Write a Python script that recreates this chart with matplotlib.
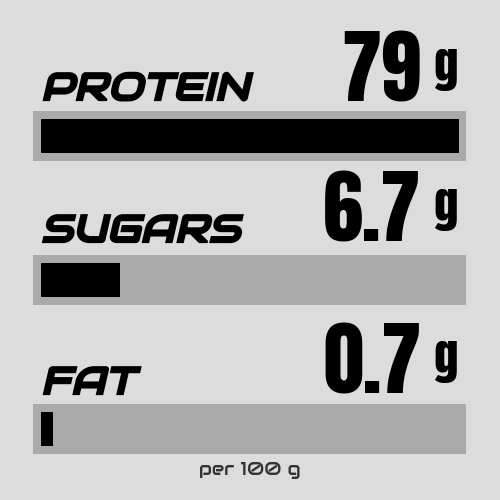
import matplotlib
matplotlib.use("Agg")
import matplotlib.pyplot as plt
from matplotlib import patheffects
from matplotlib.transforms import Affine2D

# nutrition values (grams per 100 g)
labels = ["PROTEIN", "SUGARS", "FAT"]
values = ["79", "6.7", "0.7"]
unit = "g"
# fill fraction of each bar as shown in the picture
fill = [1.0, 0.19, 0.029]

bg = "#dcdcdc"
track = "#aaaaaa"

# layout (pixel coords, y downward)
label_base = [100, 242, 394]
value_base = [102, 242, 394]
bar_mid = [135.5, 280, 429]


class Slant(patheffects.AbstractPathEffect):
    """fake oblique / widen / embolden for fonts without a bold italic"""
    def __init__(self, deg=12, sx=1.0, lw=0.0):
        super().__init__()
        self._t = Affine2D().scale(sx, 1).skew_deg(deg, 0)
        self._lw = lw

    def draw_path(self, renderer, gc, tpath, affine, rgbFace=None):
        gc0 = renderer.new_gc()
        gc0.copy_properties(gc)
        if self._lw:
            gc0.set_linewidth(self._lw)
            gc0.set_foreground(rgbFace)
            gc0.set_joinstyle("miter")
        renderer.draw_path(gc0, tpath, self._t + affine, rgbFace)
        gc0.restore()


fig = plt.figure(figsize=(5, 5), dpi=100, facecolor=bg)
ax = fig.add_axes([0, 0, 1, 1])
ax.set_xlim(0, 500)
ax.set_ylim(500, 0)
ax.axis("off")

# gray tracks + black fill
ax.barh(bar_mid, [433] * 3, left=33, height=50, color=track, linewidth=0)
ax.barh(bar_mid, [f * 418 for f in fill], left=41, height=34, color="black", linewidth=0)

for i in range(3):
    ax.text(41, label_base[i], labels[i], fontsize=27.5, family="Audiowide",
            ha="left", va="baseline", color="black",
            path_effects=[Slant(13, 1.07, 1.6)])
    ax.text(421, value_base[i], values[i], fontsize=58, family="Anton",
            ha="right", va="baseline", color="black")
    ax.text(458, value_base[i] - 17, unit, fontsize=35, family="Anton",
            ha="right", va="baseline", color="black")

ax.text(250, 475, "per 100 g", fontsize=13.5, color="#333333", family="Audiowide",
        ha="center", va="baseline")

fig.savefig("out.png", dpi=100, facecolor=bg)
